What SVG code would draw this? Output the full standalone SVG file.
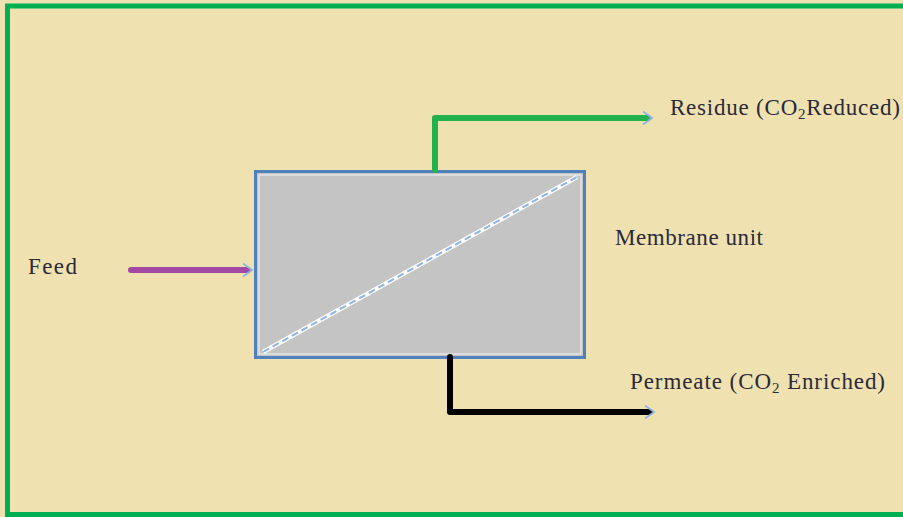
<svg xmlns="http://www.w3.org/2000/svg" width="903" height="517" viewBox="0 0 903 517">
<defs>
<style>
.lbl{font-family:"Liberation Serif","Times New Roman",serif;font-size:23px;fill:#2a2a3a}
.sub{font-size:15px}
.pipe{fill:none;stroke-linecap:round;stroke-linejoin:round;stroke-width:6}
</style>
<marker id="chev" viewBox="0 0 12 16" refX="6" refY="8" markerWidth="12" markerHeight="16" markerUnits="userSpaceOnUse" orient="auto">
<path d="M1,1.5 L10,8 L1,14.5" fill="none" stroke="#8db3e2" stroke-width="1.8"/>
</marker>
</defs>
<rect x="0" y="0" width="903" height="517" fill="#f0e2b0"/>
<path d="M950,6 L7.5,6 L7.5,514.5 L950,514.5" fill="none" stroke="#00b050" stroke-width="5"/>
<g id="membrane">
<rect x="255.5" y="171.5" width="329" height="186" fill="#c4c4c4" stroke="#4f81bd" stroke-width="3"/>
<rect x="259" y="175" width="322" height="179" fill="none" stroke="#f4f4f4" stroke-width="1"/>
<line x1="263" y1="352" x2="577" y2="177" stroke="#ffffff" stroke-width="4.5"/>
<line x1="263" y1="352" x2="577" y2="177" stroke="#8db3e2" stroke-width="2" stroke-dasharray="7,4"/>
</g>
<g id="connectors">
<path class="pipe" d="M131,270 L248,270" stroke="#a349a4" marker-end="url(#chev)"/>
<path class="pipe" d="M435,170 L435,118 L648,118" stroke="#22b14c" marker-end="url(#chev)"/>
<path class="pipe" d="M450,357 L450,412 L650,412" stroke="#000000" marker-end="url(#chev)"/>
</g>
<g id="feed"><text class="lbl" x="28" y="274" textLength="49">Feed</text></g>
<g id="residue"><text class="lbl" x="670" y="115" textLength="230">Residue (CO<tspan class="sub" dy="4">2</tspan><tspan dy="-4">Reduced)</tspan></text></g>
<g id="membrane-label"><text class="lbl" x="615" y="245" textLength="148">Membrane unit</text></g>
<g id="permeate"><text class="lbl" x="630" y="389" textLength="255">Permeate (CO<tspan class="sub" dy="4">2</tspan><tspan dy="-4"> Enriched)</tspan></text></g>
</svg>
